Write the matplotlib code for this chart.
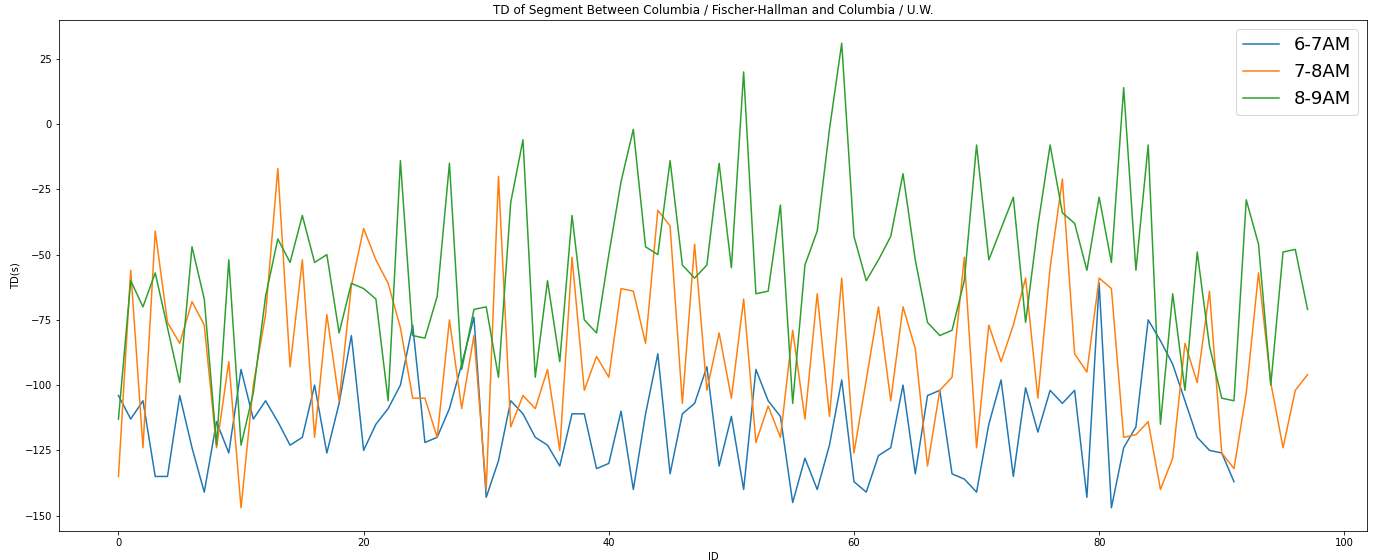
import matplotlib
matplotlib.use("Agg")
import matplotlib.pyplot as plt
import numpy as np

# travel-time difference per ID
td_6_7 = [
    -104, -113, -106, -135, -135, -104, -124, -141, -114, -126,
    -94, -113, -106, -114, -123, -120, -100, -126, -107, -81,
    -125, -115, -109, -100, -77, -122, -120, -109, -92, -74,
    -143, -129, -106, -111, -120, -123, -131, -111, -111, -132,
    -130, -110, -140, -111, -88, -134, -111, -107, -93, -131,
    -112, -140, -94, -106, -112, -145, -128, -140, -123, -98,
    -137, -141, -127, -124, -100, -134, -104, -102, -134, -136,
    -141, -115, -98, -135, -101, -118, -102, -107, -102, -143,
    -61, -147, -124, -116, -75, -83, -92, -106, -120, -125,
    -126, -137,
]
td_7_8 = [
    -135, -56, -124, -41, -76, -84, -68, -77, -124, -91,
    -147, -100, -73, -17, -93, -52, -120, -73, -106, -62,
    -40, -52, -61, -78, -105, -105, -120, -75, -109, -81,
    -140, -20, -116, -104, -109, -94, -125, -51, -102, -89,
    -97, -63, -64, -84, -33, -39, -107, -46, -102, -80,
    -105, -67, -122, -108, -120, -79, -113, -65, -112, -59,
    -126, -98, -70, -106, -70, -86, -131, -102, -97, -51,
    -124, -77, -91, -77, -59, -105, -55, -21, -88, -95,
    -59, -63, -120, -119, -114, -140, -128, -84, -99, -64,
    -126, -132, -103, -57, -99, -124, -102, -96,
]
td_8_9 = [
    -113, -60, -70, -57, -78, -99, -47, -67, -123, -52,
    -123, -103, -66, -44, -53, -35, -53, -50, -80, -61,
    -63, -67, -106, -14, -81, -82, -66, -15, -94, -71,
    -70, -97, -30, -6, -97, -60, -91, -35, -75, -80,
    -50, -22, -2, -47, -50, -14, -54, -59, -54, -15,
    -55, 20, -65, -64, -31, -107, -54, -41, -2, 31,
    -43, -60, -52, -43, -19, -52, -76, -81, -79, -60,
    -8, -52, -40, -28, -76, -39, -8, -34, -38, -56,
    -28, -53, 14, -56, -8, -115, -65, -102, -49, -85,
    -105, -106, -29, -46, -100, -49, -48, -71,
]
labels = ["6-7AM", "7-8AM", "8-9AM"]


def main():
    fig = plt.figure(figsize=(1376 / 72, 560 / 72), dpi=72)
    ax = fig.add_axes([59 / 1376, 1 - 531 / 560, (1367 - 59) / 1376, (531 - 20) / 560])

    for series, label in zip([td_6_7, td_7_8, td_8_9], labels):
        ax.plot(np.arange(len(series)), series, label=label)

    ax.set_title("TD of Segment Between Columbia / Fischer-Hallman and Columbia / U.W.")
    ax.set_xlabel("ID")
    ax.set_ylabel("TD(s)")
    ax.legend(fontsize=18)

    fig.savefig("out.png", dpi=72)


if __name__ == "__main__":
    main()
